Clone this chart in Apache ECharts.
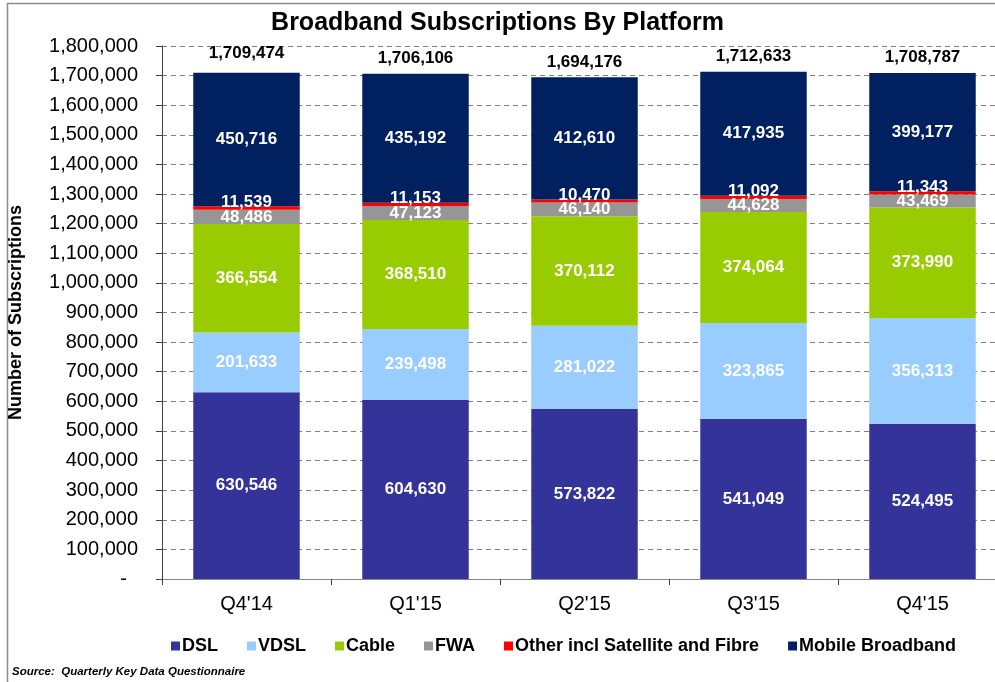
<!DOCTYPE html>
<html>
<head>
<meta charset="utf-8">
<script src="https://cdn.jsdelivr.net/npm/echarts@6/dist/echarts.min.js"></script>
<style>html,body{margin:0;padding:0;background:#fff;}#c{width:995px;height:682px;}</style>
</head>
<body>
<div id="c"></div>
<script>
const categories = ["Q4'14", "Q1'15", "Q2'15", "Q3'15", "Q4'15"];
const dsl    = [630546, 604630, 573822, 541049, 524495];
const vdsl   = [201633, 239498, 281022, 323865, 356313];
const cable  = [366554, 368510, 370112, 374064, 373990];
const fwa    = [48486, 47123, 46140, 44628, 43469];
const other  = [11539, 11153, 10470, 11092, 11343];
const mobile = [450716, 435192, 412610, 417935, 399177];
const seriesNames = ['DSL', 'VDSL', 'Cable', 'FWA', 'Other incl Satellite and Fibre', 'Mobile Broadband'];
const yTicks = { min: 0, max: 1800000, interval: 100000 };

const FONT = "'Liberation Sans', Arial, sans-serif";
const colors = ['#333399', '#99CCFF', '#99CC00', '#969696', '#FF0000', '#002060'];
const allData = [dsl, vdsl, cable, fwa, other, mobile];
const totals = categories.map((_, i) => allData.reduce((s, arr) => s + arr[i], 0));
const fmt = v => v.toLocaleString('en-US');

const barSeries = allData.map((arr, k) => ({
  name: seriesNames[k],
  type: 'bar',
  stack: 'total',
  barWidth: '63%',
  data: arr,
  itemStyle: { color: colors[k] },
  label: {
    show: true,
    position: 'inside',
    offset: k === 4 ? [0, -6] : [0, 0],
    color: '#fff',
    fontFamily: FONT,
    fontWeight: 'bold',
    fontSize: 17,
    formatter: p => fmt(p.value)
  },
  emphasis: { disabled: true }
}));

const chart = echarts.init(document.getElementById('c'), null, { renderer: 'canvas' });
chart.setOption({
  animation: false,
  backgroundColor: '#fff',
  title: {
    text: 'Broadband Subscriptions By Platform',
    left: 'center',
    top: 6,
    textStyle: { fontFamily: FONT, fontWeight: 'bold', fontSize: 25, color: '#000' }
  },
  grid: { left: 162, top: 46, width: 845, height: 533, containLabel: false, outerBoundsMode: 'none' },
  legend: {
    data: seriesNames,
    left: 166,
    top: 632,
    icon: 'rect',
    itemWidth: 9,
    itemHeight: 9,
    itemGap: 29,
    textStyle: { fontFamily: FONT, fontWeight: 'bold', fontSize: 18, color: '#000', padding: [0, 0, 0, -3] }
  },
  xAxis: {
    type: 'category',
    data: categories,
    axisLine: { lineStyle: { color: '#868686', width: 1 } },
    axisTick: { show: true, length: 6, lineStyle: { color: '#404040' } },
    axisLabel: { fontFamily: FONT, fontSize: 20, color: '#000', margin: 15 }
  },
  yAxis: {
    type: 'value',
    min: yTicks.min,
    max: yTicks.max,
    interval: yTicks.interval,
    name: 'Number of Subscriptions',
    nameLocation: 'middle',
    nameGap: 137,
    nameTextStyle: { fontFamily: FONT, fontWeight: 'bold', fontSize: 18, color: '#000' },
    axisLine: { show: true, lineStyle: { color: '#404040', width: 1 } },
    axisTick: { show: true, length: 6, lineStyle: { color: '#404040' } },
    axisLabel: {
      fontFamily: FONT, fontSize: 20, color: '#000', margin: 24,
      formatter: v => v === 0 ? '-  ' : fmt(v)
    },
    splitLine: { show: true, lineStyle: { color: '#808080', type: [5, 4], width: 1 } }
  },
  series: barSeries.concat([{
    name: 'Total',
    type: 'scatter',
    symbolSize: 0.001,
    itemStyle: { color: 'rgba(0,0,0,0)', opacity: 1 },
    data: totals.map((v, i) => i === 0 ? { value: v, label: { offset: [0, -4] } } : v),
    label: {
      show: true,
      position: 'top',
      distance: 7,
      color: '#000',
      opacity: 1,
      fontFamily: FONT,
      fontWeight: 'bold',
      fontSize: 17,
      formatter: p => fmt(p.value)
    },
    emphasis: { disabled: true },
    z: 5
  }]),
  graphic: [
    {
      type: 'rect', silent: true,
      shape: { x: 7.5, y: 3.5, width: 1000, height: 700 },
      style: { fill: 'none', stroke: '#8c8c8c', lineWidth: 1.5 }
    },
    {
      type: 'text', left: 12, top: 666, silent: true,
      style: { text: 'Source:  Quarterly Key Data Questionnaire', font: "italic bold 11.5px 'Liberation Sans', Arial, sans-serif", fill: '#000' }
    }
  ]
});
</script>
</body>
</html>
